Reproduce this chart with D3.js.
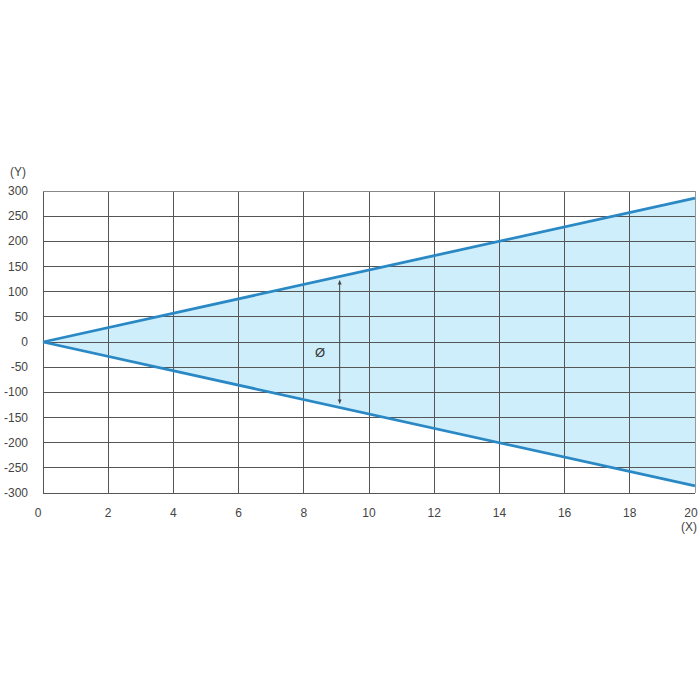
<!DOCTYPE html>
<html><head><meta charset="utf-8">
<script src="https://cdn.jsdelivr.net/npm/d3@7"></script>
<style>body{margin:0;background:#fff}svg{display:block}</style>
</head><body>
<svg id="c" width="700" height="700"></svg>
<script>
const xTicks = [0,2,4,6,8,10,12,14,16,18,20];
const yTicks = [300,250,200,150,100,50,0,-50,-100,-150,-200,-250,-300];
const upperX = [0, 20];
const upperY = [0, 286];
const lowerY = [0, -286];
const arrowX = 9.1;
const label = "Ø";

const svg = d3.select("#c");
const x = d3.scaleLinear().domain([0,20]).range([43,695]);
const y = d3.scaleLinear().domain([-300,300]).range([493,191]);

const upper = upperX.map((d,i)=>[d, upperY[i]]);
const lower = upperX.map((d,i)=>[d, lowerY[i]]);

// fill
svg.append("path")
  .attr("d", d3.line().x(d=>x(d[0])).y(d=>y(d[1]))(upper.concat(lower.slice().reverse())))
  .attr("fill","#cfeefb");

// grid
const g = svg.append("g").attr("stroke","#555").attr("stroke-width",1).attr("shape-rendering","crispEdges");
xTicks.forEach(t=>g.append("line").attr("x1",x(t)).attr("x2",x(t)).attr("y1",y(300)).attr("y2",y(-300)).attr("stroke", t===20?"#999":"#555"));
yTicks.forEach(t=>g.append("line").attr("x1",x(0)).attr("x2",x(20)).attr("y1",y(t)).attr("y2",y(t)).attr("stroke", t===300?"#888":"#555"));

// lines
const line = d3.line().x(d=>x(d[0])).y(d=>y(d[1]));
[upper, lower].forEach(p=>svg.append("path").attr("d",line(p)).attr("fill","none").attr("stroke","#2a89c5").attr("stroke-width",2.8));

// arrow
const slope = upperY[1]/upperX[1];
const ay1 = y(slope*arrowX)+4, ay2 = y(-slope*arrowX)-4;
svg.append("line").attr("x1",x(arrowX)).attr("x2",x(arrowX)).attr("y1",ay1).attr("y2",ay2).attr("stroke","#444").attr("stroke-width",1);
svg.append("path").attr("d",`M${x(arrowX)-2},${ay1+4}L${x(arrowX)},${ay1}L${x(arrowX)+2},${ay1+4}Z`).attr("fill","#444");
svg.append("path").attr("d",`M${x(arrowX)-2},${ay2-4}L${x(arrowX)},${ay2}L${x(arrowX)+2},${ay2-4}Z`).attr("fill","#444");
svg.append("text").attr("x",x(8.5)).attr("y",y(-20)+5).attr("text-anchor","middle")
  .attr("font-family","Liberation Sans, Arial, sans-serif").attr("font-size",13).attr("fill","#333").text(label);

// labels
const tf = "Liberation Sans, Arial, sans-serif";
svg.selectAll(".yl").data(yTicks).enter().append("text")
  .attr("x",28).attr("y",d=>y(d)+4).attr("text-anchor","end")
  .attr("font-family",tf).attr("font-size",12).attr("fill","#444").text(d=>d);
svg.append("text").attr("x",18).attr("y",176).attr("text-anchor","middle")
  .attr("font-family",tf).attr("font-size",12).attr("fill","#444").text("(Y)");
svg.selectAll(".xl").data(xTicks).enter().append("text")
  .attr("x",d=>x(d)-(d===0?5:(d===20?4:0))).attr("y",517).attr("text-anchor","middle")
  .attr("font-family",tf).attr("font-size",12).attr("fill","#444").text(d=>d);
svg.append("text").attr("x",689).attr("y",531).attr("text-anchor","middle")
  .attr("font-family",tf).attr("font-size",12).attr("fill","#444").text("(X)");
</script>
</body></html>
